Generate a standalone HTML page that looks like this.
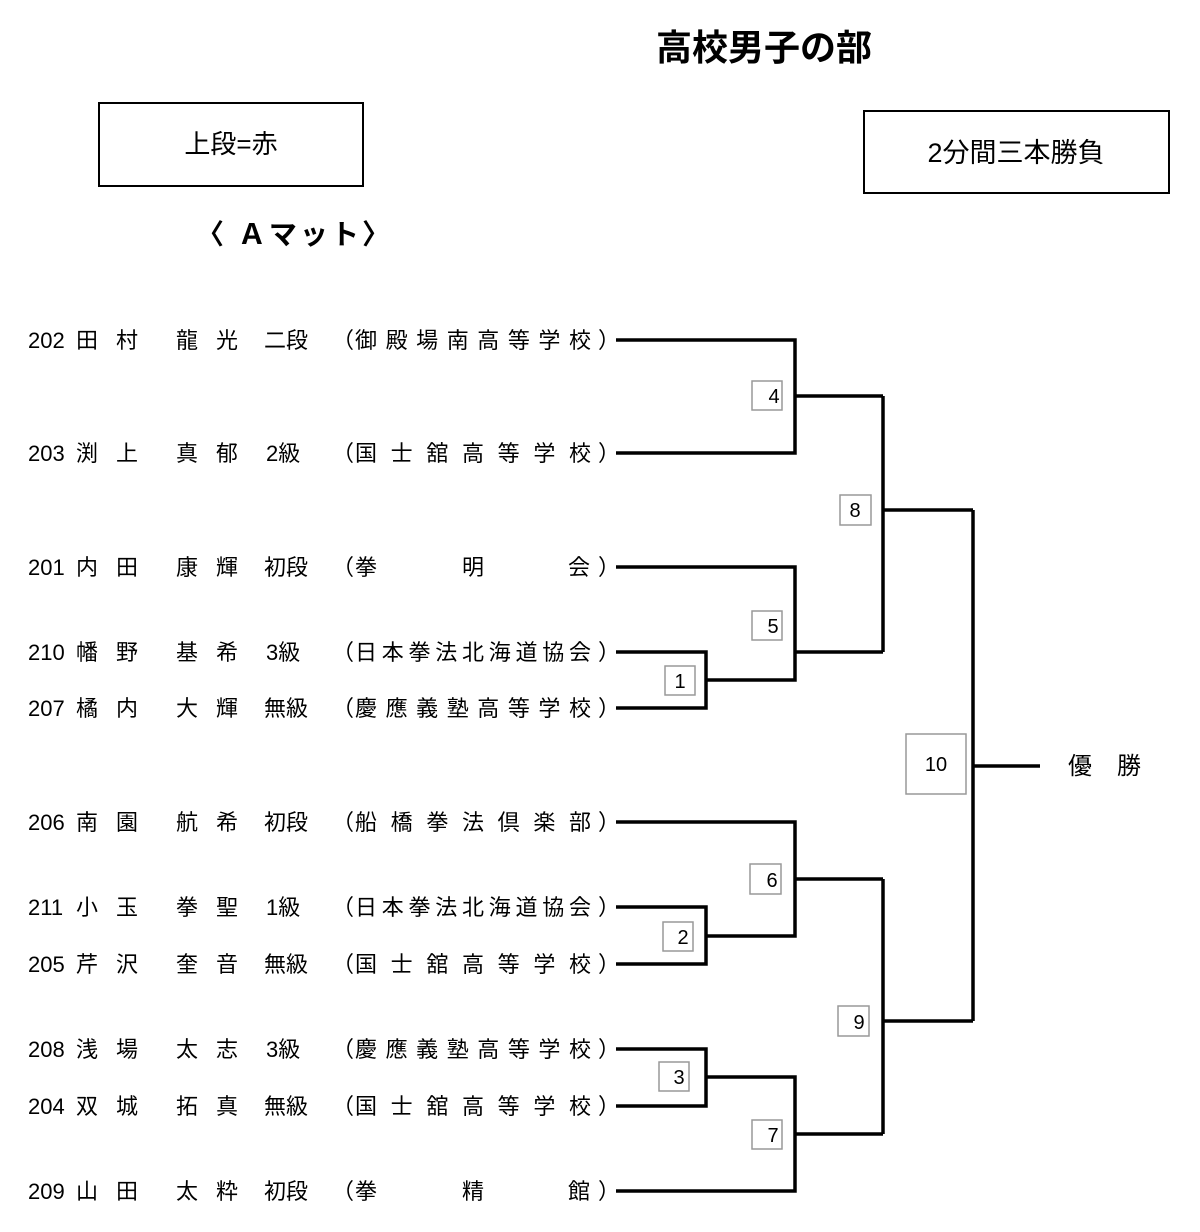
<!DOCTYPE html>
<html><head><meta charset="utf-8"><style>
html,body{margin:0;padding:0;background:#fff}
svg{display:block}
text{font-family:"Liberation Sans","Noto Sans CJK JP",sans-serif;fill:#000}
.r{font-size:22px}
</style></head><body>
<svg width="1200" height="1232" viewBox="0 0 1200 1232" xmlns="http://www.w3.org/2000/svg">
<text x="764" y="60" font-size="36" font-weight="bold" text-anchor="middle">高校男子の部</text>
<rect x="99" y="103" width="264" height="83" fill="none" stroke="#000" stroke-width="2"/>
<text x="231" y="153" font-size="26" text-anchor="middle">上段=赤</text>
<rect x="864" y="111" width="305" height="82" fill="none" stroke="#000" stroke-width="2"/>
<text x="1016" y="162" font-size="27" text-anchor="middle">2分間三本勝負</text>
<text x="196" y="244" font-size="28" font-weight="bold" textLength="194" lengthAdjust="spacing">〈 Ａマット〉</text>

<g class="r">
<g transform="translate(0,348)"><text x="28">202</text><text x="76">田</text><text x="116">村</text><text x="176">龍</text><text x="216">光</text><text x="264">二段</text><text x="332">（</text><text x="355" textLength="236" lengthAdjust="spacing">御殿場南高等学校</text><text x="598">）</text></g>
<g transform="translate(0,461)"><text x="28">203</text><text x="76">渕</text><text x="116">上</text><text x="176">真</text><text x="216">郁</text><text x="266">2級</text><text x="332">（</text><text x="355" textLength="236" lengthAdjust="spacing">国士舘高等学校</text><text x="598">）</text></g>
<g transform="translate(0,575)"><text x="28">201</text><text x="76">内</text><text x="116">田</text><text x="176">康</text><text x="216">輝</text><text x="264">初段</text><text x="332">（</text><text x="355">拳</text><text x="462">明</text><text x="568">会</text><text x="598">）</text></g>
<g transform="translate(0,660)"><text x="28">210</text><text x="76">幡</text><text x="116">野</text><text x="176">基</text><text x="216">希</text><text x="266">3級</text><text x="332">（</text><text x="355" textLength="236" lengthAdjust="spacing">日本拳法北海道協会</text><text x="598">）</text></g>
<g transform="translate(0,716)"><text x="28">207</text><text x="76">橘</text><text x="116">内</text><text x="176">大</text><text x="216">輝</text><text x="264">無級</text><text x="332">（</text><text x="355" textLength="236" lengthAdjust="spacing">慶應義塾高等学校</text><text x="598">）</text></g>
<g transform="translate(0,830)"><text x="28">206</text><text x="76">南</text><text x="116">園</text><text x="176">航</text><text x="216">希</text><text x="264">初段</text><text x="332">（</text><text x="355" textLength="236" lengthAdjust="spacing">船橋拳法倶楽部</text><text x="598">）</text></g>
<g transform="translate(0,915)"><text x="28">211</text><text x="76">小</text><text x="116">玉</text><text x="176">拳</text><text x="216">聖</text><text x="266">1級</text><text x="332">（</text><text x="355" textLength="236" lengthAdjust="spacing">日本拳法北海道協会</text><text x="598">）</text></g>
<g transform="translate(0,972)"><text x="28">205</text><text x="76">芹</text><text x="116">沢</text><text x="176">奎</text><text x="216">音</text><text x="264">無級</text><text x="332">（</text><text x="355" textLength="236" lengthAdjust="spacing">国士舘高等学校</text><text x="598">）</text></g>
<g transform="translate(0,1057)"><text x="28">208</text><text x="76">浅</text><text x="116">場</text><text x="176">太</text><text x="216">志</text><text x="266">3級</text><text x="332">（</text><text x="355" textLength="236" lengthAdjust="spacing">慶應義塾高等学校</text><text x="598">）</text></g>
<g transform="translate(0,1114)"><text x="28">204</text><text x="76">双</text><text x="116">城</text><text x="176">拓</text><text x="216">真</text><text x="264">無級</text><text x="332">（</text><text x="355" textLength="236" lengthAdjust="spacing">国士舘高等学校</text><text x="598">）</text></g>
<g transform="translate(0,1199)"><text x="28">209</text><text x="76">山</text><text x="116">田</text><text x="176">太</text><text x="216">粋</text><text x="264">初段</text><text x="332">（</text><text x="355">拳</text><text x="462">精</text><text x="568">館</text><text x="598">）</text></g>
</g>

<g fill="none" stroke="#000" stroke-width="3.5" stroke-linejoin="miter">
<polyline points="616,340 795,340 795,453 616,453"/>
<line x1="795" y1="396" x2="883" y2="396"/>
<polyline points="616,567 795,567 795,680 706,680"/>
<polyline points="616,652 706,652 706,708 616,708"/>
<line x1="795" y1="652" x2="883" y2="652"/>
<polyline points="883,396 883,652"/>
<line x1="883" y1="510" x2="973" y2="510"/>
<polyline points="616,822 795,822 795,936 706,936"/>
<polyline points="616,907 706,907 706,964 616,964"/>
<line x1="795" y1="879" x2="883" y2="879"/>
<polyline points="616,1049 706,1049 706,1106 616,1106"/>
<polyline points="706,1077 795,1077 795,1191 616,1191"/>
<line x1="795" y1="1134" x2="883" y2="1134"/>
<polyline points="883,879 883,1134"/>
<line x1="883" y1="1021" x2="973" y2="1021"/>
<polyline points="973,510 973,1021"/>
<line x1="973" y1="766" x2="1040" y2="766"/>
</g>

<g fill="#fff" stroke="#999" stroke-width="1.5">
<rect x="752" y="381" width="30" height="29"/>
<rect x="840" y="495" width="31" height="30"/>
<rect x="752" y="611" width="30" height="29"/>
<rect x="665" y="666" width="30" height="29"/>
<rect x="750" y="864" width="31" height="30"/>
<rect x="663" y="922" width="30" height="29"/>
<rect x="838" y="1006" width="31" height="30"/>
<rect x="659" y="1062" width="30" height="29"/>
<rect x="752" y="1120" width="30" height="29"/>
<rect x="906" y="734" width="60" height="60"/>
</g>
<g font-size="20" text-anchor="middle">
<text x="774" y="403">4</text>
<text x="855" y="517">8</text>
<text x="773" y="633">5</text>
<text x="680" y="688">1</text>
<text x="772" y="887">6</text>
<text x="683" y="944">2</text>
<text x="859" y="1029">9</text>
<text x="679" y="1084">3</text>
<text x="773" y="1142">7</text>
<text x="936" y="771">10</text>
</g>
<text x="1068" y="774" font-size="24">優</text>
<text x="1117" y="774" font-size="24">勝</text>
</svg>
</body></html>
